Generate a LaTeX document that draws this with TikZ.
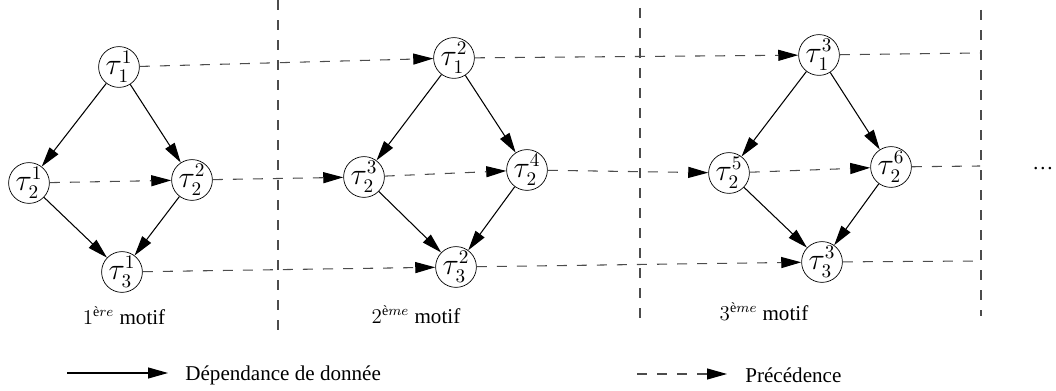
\documentclass[12pt,tikz,border=0pt]{standalone}
\usepackage{amsmath}
\usepackage{fontspec}
\setmainfont{Liberation Serif}
\usetikzlibrary{arrows.meta}
\tikzset{
    tache/.style = {circle, draw=black, thin, minimum size=0.76cm, inner sep=0pt, font=\fontsize{16}{18}\selectfont},
    dep/.style = {-{Triangle[length=0.4cm,width=0.22cm]}, semithick},
    prec/.style = {-{Triangle[length=0.4cm,width=0.22cm,color=black]}, line width=0.6pt, draw=black!70, dash pattern=on 5.7pt off 5.7pt},
    precf/.style = {line width=0.6pt, draw=black!70, dash pattern=on 5.7pt off 5.7pt}, % sans fleche
    sep/.style = {line width=0.6pt, draw=black!70, dash pattern=on 5.7pt off 5.7pt}
}
\begin{document}
\begin{tikzpicture}[x=0.02cm,y=-0.02cm]
\path[use as bounding box] (0,0) rectangle (1056,391);
%
\node[tache] at (119,67) (t11) {$\tau_1^1$};
\node[tache] at (29,183) (t21) {$\tau_2^1$};
\node[tache] at (192,180) (t22) {$\tau_2^2$};
\node[tache] at (122,272) (t31) {$\tau_3^1$};
%
\node[tache] at (454,58) (t12) {$\tau_1^2$};
\node[tache] at (364,177) (t23) {$\tau_2^3$};
\node[tache] at (527,170) (t24) {$\tau_2^4$};
\node[tache] at (456,267) (t32) {$\tau_3^2$};
%
\node[tache] at (819,55) (t13) {$\tau_1^3$};
\node[tache] at (729,173) (t25) {$\tau_2^5$};
\node[tache] at (891,167) (t26) {$\tau_2^6$};
\node[tache] at (822,262) (t33) {$\tau_3^3$};
%
\coordinate (f1) at (980,53);
\coordinate (f2) at (980,166);
\coordinate (f3) at (980,261);
%
\draw[dep] (t11) edge (t21);
\draw[dep] (t11) edge (t22);
\draw[dep] (t21) edge (t31);
\draw[dep] (t22) edge (t31);
\draw[dep] (t12) edge (t23);
\draw[dep] (t12) edge (t24);
\draw[dep] (t23) edge (t32);
\draw[dep] (t24) edge (t32);
\draw[dep] (t13) edge (t25);
\draw[dep] (t13) edge (t26);
\draw[dep] (t25) edge (t33);
\draw[dep] (t26) edge (t33);
%
\draw[prec] (t11) edge (t12);
\draw[prec] (t12) edge (t13);
\draw[prec] (t21) edge (t22);
\draw[prec] (t22) edge (t23);
\draw[prec] (t23) edge (t24);
\draw[prec] (t24) edge (t25);
\draw[prec] (t25) edge (t26);
\draw[prec] (t31) edge (t32);
\draw[prec] (t32) edge (t33);
\draw[precf] (t13) -- (f1);
\draw[precf] (t26) -- (f2);
\draw[precf] (t33) -- (f3);
%
\draw[sep] (278,0) -- (278,340);
\draw[sep] (640,8) -- (640,322);
\draw[sep] (981,10) -- (981,316);
%
\node at (124,316) (m1) {$1^{\text{è}re}$ motif};
\node at (416,315) (m2) {$2^{\text{è}me}$ motif};
\node at (764,312) (m3) {$3^{\text{è}me}$ motif};
\node at (1043,169) (etc) {\dots};
%
\coordinate (la) at (67,373);
\coordinate (lb) at (168,373);
\coordinate (lc) at (637,374);
\coordinate (ld) at (727,374);
\draw[dep] (la) -- (lb);
\draw[prec] (lc) -- (ld);
\node[anchor=west] at (178,375) (ldep) {Dépendance de donnée};
\node[anchor=west] at (738,375) (lprec) {Précédence};

\end{tikzpicture}
\end{document}
